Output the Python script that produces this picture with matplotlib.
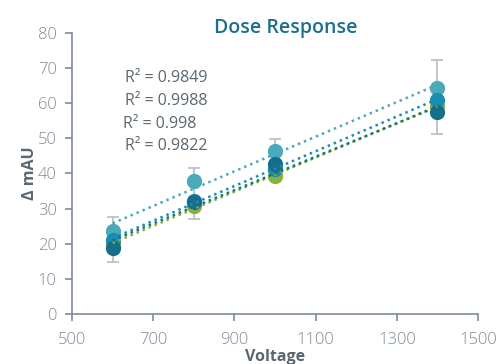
import numpy as np
import matplotlib
matplotlib.use("Agg")
import matplotlib.pyplot as plt

plt.rcParams['font.family'] = ['Open Sans', 'DejaVu Sans']

voltage = [600, 800, 1000, 1400]
series_light = [23.6, 38.0, 46.5, 64.2]
series_medium = [21.0, 32.3, 41.3, 61.0]
series_green = [19.8, 30.8, 39.2, 59.2]
series_dark = [18.7, 31.8, 42.6, 57.4]
err_center = [21.0, 34.3, 46.5, 61.0]
err_low = [14.7, 27.0, 43.0, 51.3]
err_high = [27.5, 41.7, 49.8, 72.2]
r2_labels = ["R\u00b2 = 0.9849", "R\u00b2 = 0.9988", "R\u00b2 = 0.998", "R\u00b2 = 0.9822"]

c_light = "#4AA9BA"
c_medium = "#1A8DB3"
c_dark = "#166E8D"
c_green = "#8CB13A"
axis_col = "#7D8B98"
tick_col = "#7D8B98"
label_col = "#5B6770"

fig = plt.figure(figsize=(5, 3.64), dpi=100)
ax = fig.add_axes([0.144, 0.1374, 0.812, 0.772])

x = np.array(voltage, dtype=float)
ec = np.array(err_center)
ax.errorbar(x, ec, yerr=[ec - np.array(err_low), np.array(err_high) - ec],
            fmt='none', ecolor="#B9C2CA", elinewidth=1.3, capsize=4, capthick=1.3, zorder=1)

series = [(series_light, c_light), (series_green, c_green),
          (series_medium, c_medium), (series_dark, c_dark)]
for vals, col in series:
    ax.plot(x, vals, 'o', color=col, markersize=11, markeredgewidth=0, zorder=3)
for vals, col in series:
    k, b = np.polyfit(x, vals, 1)
    xs = np.array([x.min(), x.max()])
    ax.plot(xs, k * xs + b, linestyle=(0, (1, 1.6)), color=col, linewidth=1.8, zorder=4)

ax.set_xlim(500, 1500)
ax.set_ylim(0, 80)
ax.set_xticks([500, 700, 900, 1100, 1300, 1500])
ax.set_yticks(range(0, 81, 10))
for s in ['top', 'right']:
    ax.spines[s].set_visible(False)
for s in ['left', 'bottom']:
    ax.spines[s].set_color(axis_col)
    ax.spines[s].set_linewidth(1.2)
ax.tick_params(axis='both', direction='out', length=5, width=1.2, color=axis_col,
               labelcolor=tick_col, labelsize=12)
ax.tick_params(axis='x', pad=8)
ax.tick_params(axis='y', pad=6)
for lab in ax.get_xticklabels() + ax.get_yticklabels():
    lab.set_fontweight('light')

ax.set_xlabel("Voltage", fontsize=11.5, fontweight='bold', color=label_col, labelpad=1)
ax.set_ylabel("\u0394 mAU", fontsize=11.5, fontweight='bold', color=label_col, labelpad=0)

fig.text(0.572, 0.922, "Dose Response", fontsize=14, fontweight='semibold', color="#1B6F8E",
         ha='center', va='center')

ys = [78, 101, 124, 146]
xs_px = [125, 125, 123, 125]
for lab, yp, xp in zip(r2_labels, ys, xs_px):
    fig.text(xp / 500, 1 - yp / 364, lab, fontsize=11.5, color=label_col, ha='left', va='center')

fig.savefig("out.png", dpi=100)
